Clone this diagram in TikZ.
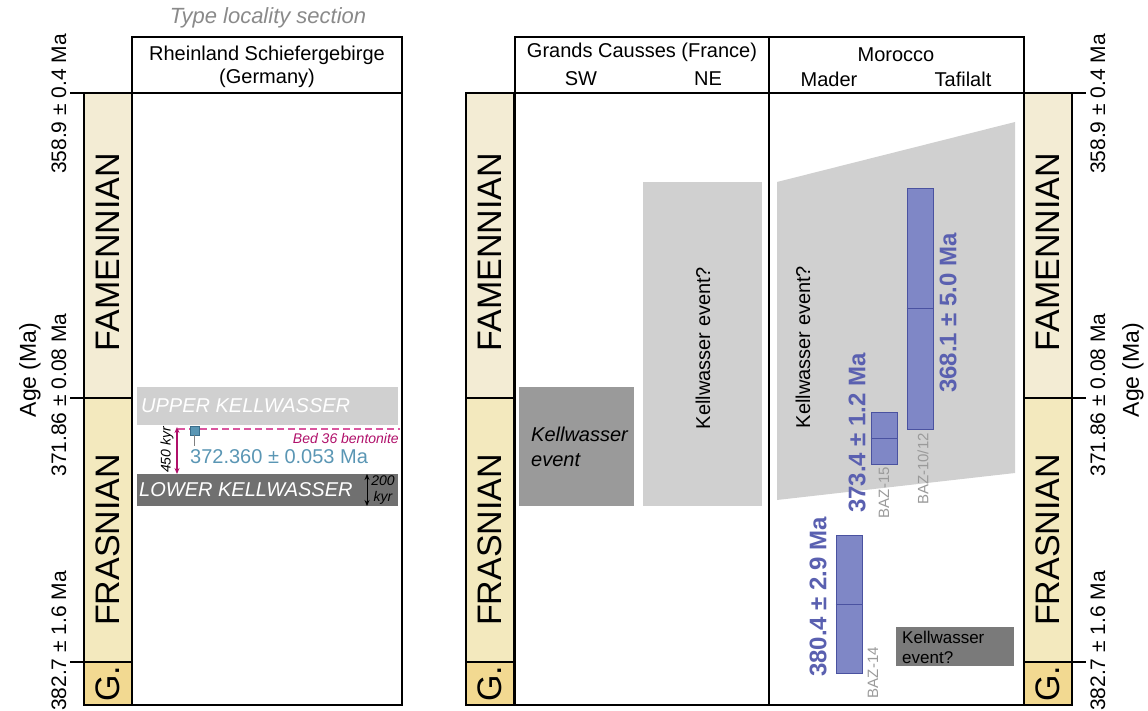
\documentclass[tikz,border=0pt]{standalone}
\usepackage{fontspec}
\setmainfont{Liberation Sans}
\usetikzlibrary{arrows.meta}
\definecolor{famcol}{HTML}{F3ECD4}
\definecolor{frascol}{HTML}{F3E9BE}
\definecolor{givcol}{HTML}{F2D991}
\definecolor{kwlight}{HTML}{D0D0D0}
\definecolor{kwmid}{HTML}{9A9A9A}
\definecolor{kwdark}{HTML}{707070}
\definecolor{kwbox}{HTML}{7A7A7A}
\definecolor{barfill}{HTML}{7F87C6}
\definecolor{barline}{HTML}{4A52A0}
\definecolor{bartext}{HTML}{5A60B0}
\definecolor{bedcol}{HTML}{B0106A}
\definecolor{beddash}{HTML}{D9559E}
\definecolor{agecol}{HTML}{5A96B4}
\definecolor{agedark}{HTML}{3A6E8C}
\definecolor{samplecol}{HTML}{9A9A9A}
\definecolor{titlecol}{HTML}{8A8A8A}
\newcommand{\fs}[1]{\fontsize{#1}{#1}\selectfont}

\begin{document}
\begin{tikzpicture}[x=1pt, y=-1pt,
  every node/.style={inner sep=0pt},
  frame/.style={draw=black, line width=2.1pt},
  stagelab/.style={rotate=90, font=\fs{34}},
  ticklab/.style={rotate=90, font=\fs{21}},
  agelab/.style={rotate=90, font=\fs{23}},
  head/.style={font=\fs{20}},
  agebar/.style={draw=barline, fill=barfill, line width=0.8pt, inner sep=0pt},
  barage/.style={rotate=90, text=bartext, font=\bfseries\fs{24}},
  sample/.style={rotate=90, text=samplecol, font=\fs{15}},
  >={Stealth[length=6pt,width=5pt]}]

\useasboundingbox (0,0) rectangle (1148,711);

% --- Stratigraphic columns ---
\foreach \cx/\nm in {84/a,466/b,1024/c} {
  \fill[famcol] (\cx,93) rectangle ++(48,305);
  \fill[frascol] (\cx,398) rectangle ++(48,264);
  \fill[givcol] (\cx,662) rectangle ++(48,43);
  \draw[frame] (\cx,93) rectangle ++(48,612);
  \draw[frame] (\cx,398) -- ++(48,0);
  \draw[frame] (\cx,662) -- ++(48,0);
  \node[stagelab] (fam\nm) at (\cx+24,252) {FAMENNIAN};
  \node[stagelab] (fras\nm) at (\cx+24,540) {FRASNIAN};
  \node[stagelab] (giv\nm) at (\cx+24,684) {G.};
}

% Ticks and ages
\foreach \ty in {93,398,662} {
  \draw[frame] (70,\ty) -- (84,\ty);
  \draw[frame] (1072,\ty) -- (1086,\ty);
}
\foreach \lx/\nm in {59/l,1098/r} {
  \node[ticklab] (top\nm) at (\lx,104) {358.9 ± 0.4 Ma};
  \node[ticklab] (mid\nm) at (\lx,395) {371.86 ± 0.08 Ma};
  \node[ticklab] (bot\nm) at (\lx,641) {382.7 ± 1.6 Ma};
}
\node[agelab] (agel) at (30,370) {Age (Ma)};
\node[agelab] (ager) at (1133,370) {Age (Ma)};

% --- Left panel: type locality ---
\node[text=titlecol, font=\itshape\fs{22}] (typeloc) at (268,18) {Type locality section};
\node[head] (rhein) at (267,55) {Rheinland Schiefergebirge};
\node[head] (germ) at (267,78) {(Germany)};

% Kellwasser horizons
\fill[kwlight] (137,387) rectangle (398,425);
\fill[kwdark] (137,474) rectangle (398,506);
\node[text=white, font=\itshape\fs{20}, anchor=west] (upkw) at (141,406) {UPPER KELLWASSER};
\node[text=white, font=\itshape\fs{20}, anchor=west] (lowkw) at (139,490) {LOWER KELLWASSER};

% Bentonite
\draw[beddash, line width=1.2pt, dash pattern=on 7pt off 4pt] (178,429) -- (400,429);
\node[draw=agedark, fill=agecol, minimum size=9pt] (bed) at (194.5,430.5) {};
\coordinate (stem) at (194.5,446);
\draw[gray, line width=1pt] (bed.south) -- (stem);
\node[text=bedcol, font=\itshape\fs{14}, anchor=east] (bedlab) at (399,438) {Bed 36 bentonite};
\node[text=agecol, font=\fs{20}, anchor=west] (bedage) at (190,457) {372.360 ± 0.053 Ma};

% Durations
\coordinate (kwa) at (177,427);
\coordinate (kwb) at (177,474);
\draw[bedcol, line width=1.2pt, <->] (kwa) -- (kwb);
\node[rotate=90, font=\itshape\fs{14}] (kyr450) at (167,450) {450 kyr};
\coordinate (lka) at (367,474);
\coordinate (lkb) at (367,506);
\draw[black, line width=1pt, <->] (lka) -- (lkb);
\node[font=\itshape\fontsize{14}{16}\selectfont, align=center] (kyr200) at (383,490) {200\\kyr};

\draw[frame] (132,37) rectangle (402,705);
\draw[frame] (132,93) -- (402,93);

% --- Middle panel: Grands Causses and Morocco ---
\node[head] (causses) at (642,52) {Grands Causses (France)};
\node[head] (sw) at (581,79) {SW};
\node[head] (ne) at (708,79) {NE};
\node[head] (morocco) at (896,55) {Morocco};
\node[head] (mader) at (829,79) {Mader};
\node[head] (tafi) at (963,79) {Tafilalt};

% Grands Causses
\fill[kwmid] (519,387) rectangle (634,506);
\node[font=\itshape\fontsize{20}{25}\selectfont, align=left, anchor=west] (swkw) at (531,447) {Kellwasser\\event};
\fill[kwlight] (643,182) rectangle (762,506);
\node[rotate=90, font=\fs{20}] (nekw) at (703,348) {Kellwasser event?};

% Morocco
\fill[kwlight] (777,182) -- (1015,122) -- (1015,473) -- (777,500) -- cycle;
\node[rotate=90, font=\fs{20}] (tafkw) at (803,347) {Kellwasser event?};
\fill[kwbox] (896,627) rectangle (1014,666);
\node[font=\fontsize{17}{20}\selectfont, align=left, anchor=west] (madkw) at (902,647) {Kellwasser\\event?};

% Zircon ages
\node[agebar, minimum width=26pt, minimum height=52pt] (baz15) at (884,438) {};
\node[agebar, minimum width=26pt, minimum height=241pt] (baz10) at (920,308.5) {};
\node[agebar, minimum width=26pt, minimum height=138pt] (baz14) at (849,604) {};
\foreach \b in {baz15,baz10,baz14}
  \draw[barline, line width=0.8pt] (\b.west) -- (\b.east);
\node[barage] (age15) at (857,433) {373.4 ± 1.2 Ma};
\node[sample, anchor=east] (lab15) at (884,467) {BAZ-15};
\node[barage] (age10) at (948,313) {368.1 ± 5.0 Ma};
\node[sample, anchor=east] (lab10) at (923,433) {BAZ-10/12};
\node[barage] (age14) at (818,597) {380.4 ± 2.9 Ma};
\node[sample, anchor=east] (lab14) at (873,647) {BAZ-14};

\draw[frame] (515,37) rectangle (1024,705);
\draw[frame] (515,93) -- (1024,93);
\draw[frame] (769,37) -- (769,705);

\end{tikzpicture}
\end{document}
